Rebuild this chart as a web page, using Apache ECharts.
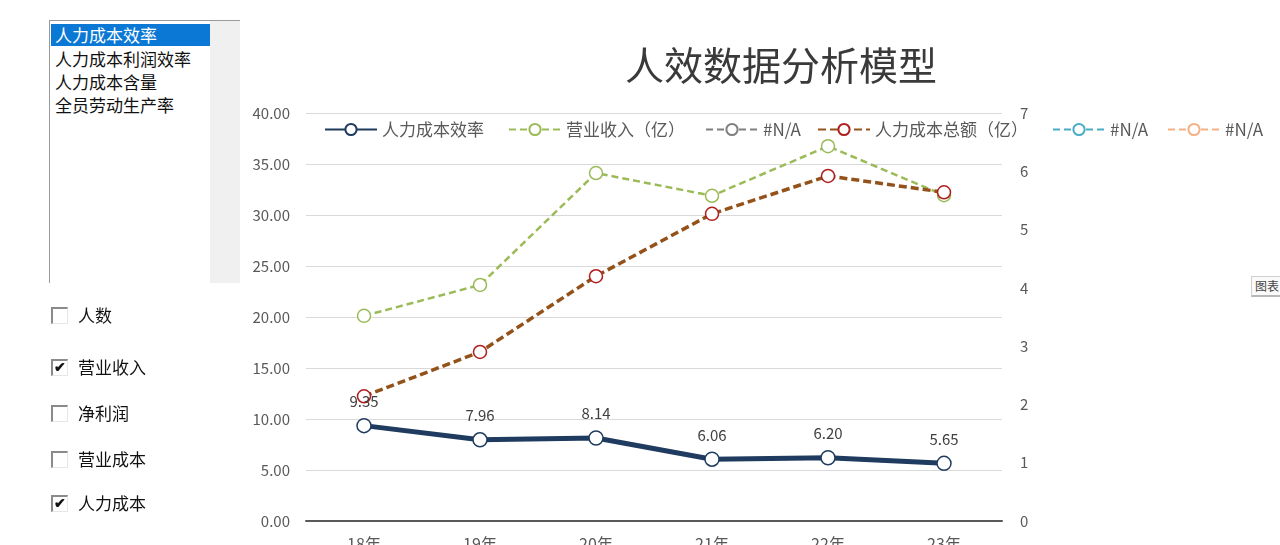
<!DOCTYPE html>
<html>
<head>
<meta charset="utf-8">
<script src="https://cdn.jsdelivr.net/npm/echarts@6/dist/echarts.min.js"></script>
<style>
  html, body { margin: 0; padding: 0; background: #fff; }
  body { width: 1280px; height: 545px; overflow: hidden; position: relative;
         font-family: "Noto Sans CJK SC", "Noto Sans", sans-serif; }
  #chart { position: absolute; left: 0; top: 0; width: 1280px; height: 545px; }
  .listbox { position: absolute; left: 49px; top: 20px; width: 190px; height: 262px;
             border-left: 1px solid #9a9a9a; border-top: 1px solid #9a9a9a; background: #fff; }
  .listbox .scroll { position: absolute; right: 0; top: 0; width: 30px; height: 100%; background: #f0f0f0; }
  .listbox .item { position: absolute; left: 1px; width: 155px; height: 22px; line-height: 22px;
                   padding-left: 4px; font-size: 17px; color: #111; white-space: nowrap; }
  .listbox .item.sel { background: #0a78d4; color: #fff; }
  .cb { position: absolute; left: 51px; font-size: 17px; color: #111; white-space: nowrap; }
  .cb .box { position: absolute; left: 0; top: -8px; width: 14px; height: 14px;
             border-top: 2px solid #8a8a8a; border-left: 2px solid #8a8a8a;
             border-right: 1px solid #e6e6e6; border-bottom: 1px solid #e6e6e6; background: #fff; }
  .cb .box span { position: absolute; left: 1px; top: -5px; font-size: 14px; color: #111; font-weight: bold; }
  .cb .lbl { position: absolute; left: 27px; top: -13px; line-height: 26px; }
  .tab { position: absolute; left: 1251px; top: 276px; width: 40px; height: 18px;
         border: 1px solid #d0d0d0; border-bottom: 2px solid #b8b8b8; background: #fafafa;
         font-size: 12px; line-height: 18px; color: #444; padding-left: 3px; }
</style>
</head>
<body>
<div id="chart"></div>
<div class="listbox">
  <div class="scroll"></div>
  <div class="item sel" style="top:3px">人力成本效率</div>
  <div class="item" style="top:27px">人力成本利润效率</div>
  <div class="item" style="top:50px">人力成本含量</div>
  <div class="item" style="top:73px">全员劳动生产率</div>
</div>
<div class="cb" style="top:315px"><div class="box"></div><div class="lbl">人数</div></div>
<div class="cb" style="top:367px"><div class="box"><span>✔</span></div><div class="lbl">营业收入</div></div>
<div class="cb" style="top:413px"><div class="box"></div><div class="lbl">净利润</div></div>
<div class="cb" style="top:459px"><div class="box"></div><div class="lbl">营业成本</div></div>
<div class="cb" style="top:503px"><div class="box"><span>✔</span></div><div class="lbl">人力成本</div></div>
<div class="tab">图表</div>
<script>
// 年份
var years = ['18年', '19年', '20年', '21年', '22年', '23年'];
// 人力成本效率（左轴）
var efficiency = [9.35, 7.96, 8.14, 6.06, 6.20, 5.65];
// 营业收入（亿）（右轴）
var revenue = [3.52, 4.05, 5.97, 5.58, 6.43, 5.59];
// 人力成本总额（亿）（右轴）
var hrCost = [2.14, 2.90, 4.20, 5.27, 5.92, 5.64];
// 未选中的指标 #N/A
var naSeries = [];

var FONT = '"Noto Sans CJK SC", "Noto Sans", sans-serif';
var chart = echarts.init(document.getElementById('chart'));

function lineSeries(name, data, color, border, width, dash, size, axis) {
    return {
        name: name,
        type: 'line',
        yAxisIndex: axis,
        data: data,
        symbol: 'circle',
        symbolSize: size,
        showAllSymbol: true,
        lineStyle: { color: color, width: width, type: dash || 'solid' },
        itemStyle: { color: '#fff', borderColor: border, borderWidth: 1.5 },
        emphasis: { disabled: true },
        z: axis === 0 ? 5 : 3
    };
}

function legendAt(name, left) {
    return {
        data: [name],
        left: left,
        top: 116,
        itemWidth: 52,
        itemHeight: 14,
        itemGap: 4,
        selectedMode: false,
        formatter: function (n) { return n.trim(); },
        textStyle: { color: '#595959', fontSize: 17, fontFamily: FONT }
    };
}

var effSeries = lineSeries('人力成本效率', efficiency, '#1f3b5f', '#1f3b5f', 5, null, 14, 0);
effSeries.label = {
    show: true, position: 'top', distance: 9,
    formatter: function (p) { return p.value.toFixed(2); },
    color: '#404040', fontSize: 15, fontFamily: FONT
};

var option = {
    animation: false,
    graphic: [{
        type: 'text', left: 625, top: 46,
        style: { text: '人效数据分析模型', fontSize: 39, fill: '#3a3a3a', fontFamily: FONT }
    }],
    legend: [
        legendAt('人力成本效率', 319),
        legendAt('营业收入（亿）', 503),
        legendAt('#N/A', 700),
        legendAt('人力成本总额（亿）', 812),
        legendAt('#N/A ', 1047),
        legendAt('#N/A  ', 1162)
    ],
    grid: { left: 306, right: 278, top: 113, bottom: 24, containLabel: false, outerBoundsMode: 'none' },
    xAxis: {
        type: 'category',
        data: years,
        axisLine: { lineStyle: { color: '#595959', width: 2 } },
        axisTick: { show: false },
        axisLabel: { color: '#595959', fontSize: 16, margin: 15, fontFamily: FONT }
    },
    yAxis: [{
        type: 'value', min: 0, max: 40, interval: 5,
        axisLine: { show: false }, axisTick: { show: false },
        axisLabel: { color: '#595959', fontSize: 15, margin: 16, fontFamily: FONT,
                     formatter: function (v) { return v.toFixed(2); } },
        splitLine: { lineStyle: { color: '#d9d9d9', width: 1 } }
    }, {
        type: 'value', min: 0, max: 7, interval: 1,
        axisLine: { show: false }, axisTick: { show: false },
        axisLabel: { color: '#595959', fontSize: 15, margin: 18, fontFamily: FONT },
        splitLine: { show: false }
    }],
    series: [
        effSeries,
        lineSeries('营业收入（亿）', revenue, '#9bbb59', '#9bbb59', 2.5, [7, 4], 13, 1),
        lineSeries('#N/A', naSeries, '#7f7f7f', '#7f7f7f', 3, [7, 4], 13, 1),
        lineSeries('人力成本总额（亿）', hrCost, '#94521b', '#b01e1e', 3.5, [8, 4], 13, 1),
        lineSeries('#N/A ', naSeries, '#4bacc6', '#4bacc6', 3, [7, 4], 13, 1),
        lineSeries('#N/A  ', naSeries, '#f4b183', '#f4b183', 3, [7, 4], 13, 1)
    ]
};
chart.setOption(option);
</script>
</body>
</html>
